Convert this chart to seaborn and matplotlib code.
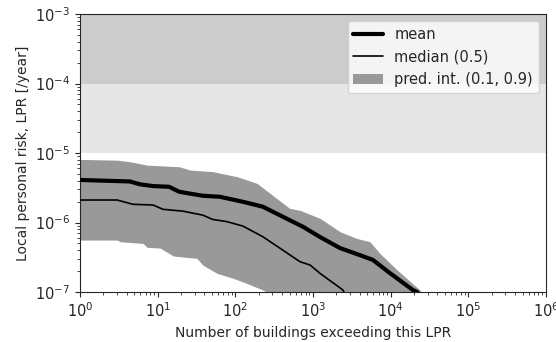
import numpy as np
import pandas as pd
import matplotlib
matplotlib.use("Agg")
import matplotlib.pyplot as plt
import seaborn as sns

# Number of buildings exceeding LPR (x) and LPR values
mean_x = [1, 4.4, 5.9, 8.7, 14, 19, 38, 63, 125, 226, 410, 741, 1230, 2220, 4010, 5900, 9800, 19300, 22000]
mean_y = [4.1e-6, 3.9e-6, 3.55e-6, 3.35e-6, 3.27e-6, 2.77e-6, 2.43e-6, 2.35e-6, 1.99e-6, 1.69e-6,
          1.21e-6, 8.7e-7, 6.2e-7, 4.3e-7, 3.4e-7, 2.9e-7, 1.87e-7, 1.07e-7, 1.0e-7]

median_x = [1, 3, 4.8, 8.7, 11.7, 21, 38, 51, 78, 125, 226, 410, 680, 915, 1230, 2430, 2500]
median_y = [2.11e-6, 2.11e-6, 1.83e-6, 1.79e-6, 1.55e-6, 1.46e-6, 1.28e-6, 1.11e-6, 1.03e-6, 8.9e-7,
            6.25e-7, 4.0e-7, 2.73e-7, 2.45e-7, 1.86e-7, 1.07e-7, 1.0e-7]

upper_x = [1, 3, 4.4, 7.3, 19, 26, 51, 105, 190, 280, 500, 680, 1230, 2220, 3670, 5400, 7250, 12000, 23800, 25000]
upper_y = [8.1e-6, 7.9e-6, 7.5e-6, 6.7e-6, 6.35e-6, 5.7e-6, 5.4e-6, 4.57e-6, 3.66e-6, 2.63e-6,
           1.6e-6, 1.5e-6, 1.15e-6, 7.4e-7, 5.9e-7, 5.3e-7, 3.6e-7, 2.1e-7, 1.07e-7, 1.0e-7]

lower_x = [1, 3, 3.3, 6.5, 7.3, 10.7, 16, 32, 38, 58, 93, 141, 226, 250]
lower_y = [5.6e-7, 5.6e-7, 5.3e-7, 5.0e-7, 4.4e-7, 4.3e-7, 3.3e-7, 3.05e-7, 2.45e-7, 1.86e-7,
           1.58e-7, 1.33e-7, 1.07e-7, 1.0e-7]

sns.set_style("ticks")
plt.rcParams['font.family'] = ['DejaVu Sans']

fig, ax = plt.subplots(figsize=(5.56, 3.42), dpi=100)
fig.subplots_adjust(left=0.144, right=0.982, top=0.959, bottom=0.146)

# Risk bands
ax.axhspan(1e-4, 1e-3, color="#cccccc", lw=0, zorder=0)
ax.axhspan(1e-5, 1e-4, color="#e6e6e6", lw=0, zorder=0)

# Prediction interval: interpolate both bounds on a common log grid
grid = np.unique(np.concatenate([upper_x, lower_x]))
up = np.exp(np.interp(np.log(grid), np.log(upper_x), np.log(upper_y)))
lo = np.exp(np.interp(np.log(grid), np.log(lower_x), np.log(lower_y), right=np.log(1e-8)))
ax.fill_between(grid, lo, up, color="#999999", lw=0, label="pred. int. (0.1, 0.9)", zorder=1)

df_mean = pd.DataFrame({"x": mean_x, "y": mean_y})
df_median = pd.DataFrame({"x": median_x, "y": median_y})
sns.lineplot(data=df_mean, x="x", y="y", color="black", lw=3, label="mean", ax=ax, zorder=3)
sns.lineplot(data=df_median, x="x", y="y", color="black", lw=1.2, label="median (0.5)", ax=ax, zorder=3)

ax.set_xscale("log")
ax.set_yscale("log")
ax.set_xlim(1, 1e6)
ax.set_ylim(1e-7, 1e-3)
ax.set_xlabel("Number of buildings exceeding this LPR", fontsize=10)
ax.set_ylabel("Local personal risk, LPR [/year]", fontsize=10)
ax.tick_params(labelsize=10.5)

h, l = ax.get_legend_handles_labels()
order = [l.index("mean"), l.index("median (0.5)"), l.index("pred. int. (0.1, 0.9)")]
ax.legend([h[i] for i in order], [l[i] for i in order], loc="upper right", fontsize=10.5)

plt.savefig("out.png", dpi=100)
